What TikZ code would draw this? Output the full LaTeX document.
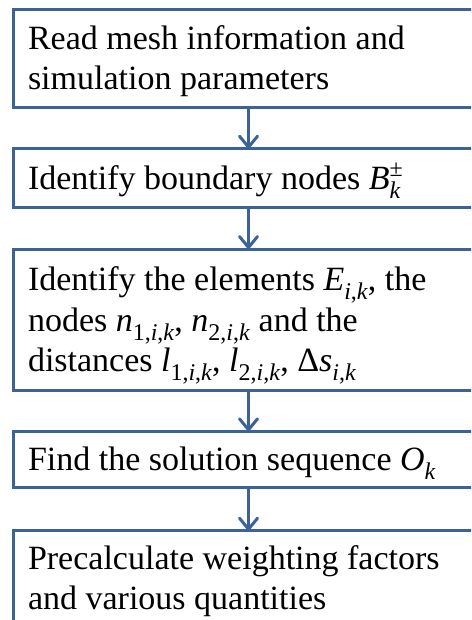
\documentclass[tikz,border=0pt]{standalone}
\usepackage{fontspec}
\setmainfont{Liberation Serif}
\usetikzlibrary{arrows.meta}
\definecolor{boxblue}{HTML}{3B6397}
\newcommand\sbs[1]{\raisebox{-9pt}{\fontsize{24}{24}\selectfont #1}}
\newcommand\sps[1]{\raisebox{12.5pt}{\fontsize{24}{24}\selectfont #1}}
\begin{document}
\begin{tikzpicture}[x=1pt,y=-1pt,
  flowbox/.style={draw=boxblue, line width=3pt, rectangle, minimum width=471pt, outer sep=0pt, inner sep=0pt, fill=white},
  txt/.style={anchor=base west, inner sep=0pt, outer sep=0pt, align=left, font=\fontsize{34}{40}\selectfont},
  arr/.style={draw=boxblue, line width=3pt, -{Straight Barb[length=11pt, width=18pt, round]}}]
\useasboundingbox (0,0) rectangle (471,620);
\clip (0,0) rectangle (471,620);
\node[flowbox, minimum height=97.6pt] (b1) at (248.5,58.5) {};
\node[flowbox, minimum height=58.8pt] (b2) at (248.5,178.1) {};
\node[flowbox, minimum height=141pt] (b3) at (248.5,319.5) {};
\node[flowbox, minimum height=55.7pt] (b4) at (248.5,459.15) {};
\node[flowbox, minimum height=149.3pt] (b5) at (248.5,605.35) {};
\draw[arr] (b1.south) -- (b2.north);
\draw[arr] (b2.south) -- (b3.north);
\draw[arr] (b3.south) -- (b4.north);
\draw[arr] (b4.south) -- (b5.north);
\node[txt] (t1) at (28,90) {Read mesh information and\\simulation parameters};
\node[txt] (t2) at (28,189.5) {Identify boundary nodes \textit{B}\rlap{\sps{±}}\sbs{\textit{k}}};
\node[txt, font=\fontsize{34}{40.5}\selectfont] (t3) at (28,371.5) {Identify the elements \textit{E}\sbs{\textit{i},\textit{k}}, the\\nodes \textit{n}\sbs{1,\textit{i},\textit{k}}, \textit{n}\sbs{2,\textit{i},\textit{k}} and the\\distances \textit{l}\sbs{1,\textit{i},\textit{k}}, \textit{l}\sbs{2,\textit{i},\textit{k}}, Δ\textit{s}\sbs{\textit{i},\textit{k}}};
\node[txt] (t4) at (28,470.5) {Find the solution sequence \textit{O}\sbs{\textit{k}}};
\node[txt] (t5) at (28,609.5) {Precalculate weighting factors\\and various quantities};
\end{tikzpicture}
\end{document}
